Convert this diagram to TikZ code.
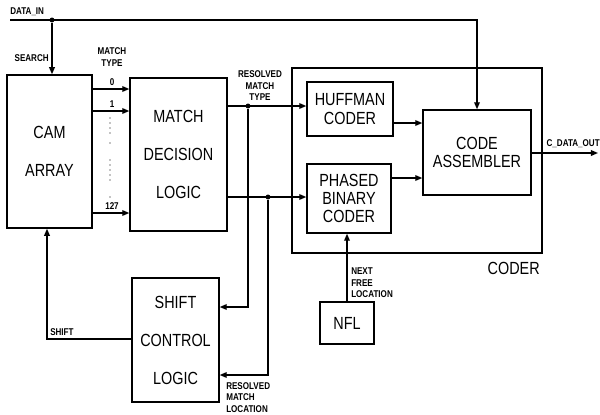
\documentclass[tikz,border=0pt]{standalone}
\usepackage{fontspec}
\setmainfont{Liberation Sans}[FakeStretch=0.82]
\usetikzlibrary{arrows.meta,positioning}

\begin{document}
\begin{tikzpicture}[x=0.025cm,y=-0.025cm,
  blk/.style={draw,line width=1pt,align=center,inner sep=0pt,font=\fontsize{12.5}{13}\selectfont},
  lbl/.style={font=\fontsize{7}{8.2}\selectfont\bfseries,align=left,inner sep=0pt},
  arr/.style={line width=1pt,-{Triangle[length=5pt,width=4pt]}},
  jdot/.style={circle,fill,inner sep=0pt,minimum size=3.5pt}]
  \useasboundingbox (0,0) rectangle (600,415);

  % Blocks
  \node[blk,minimum width=2.125cm,minimum height=3.825cm] (cam) at (49.5,151.5) {CAM\\[14pt]ARRAY};
  \node[blk,minimum width=2.425cm,minimum height=3.825cm] (mdl) at (178.5,154.5) {MATCH\\[14pt]DECISION\\[14pt]LOGIC};
  \node[blk,minimum width=2.175cm,minimum height=3.1cm] (scl) at (175.5,340) {SHIFT\\[14pt]CONTROL\\[14pt]LOGIC};
  \node[blk,minimum width=6.25cm,minimum height=4.625cm] (coder) at (417,160.5) {};
  \node[font=\fontsize{12.5}{13}\selectfont,anchor=north east,inner sep=0pt] (coderlbl) at (540,262) {CODER};
  \node[blk,minimum width=2.15cm,minimum height=1.35cm] (huff) at (350,109) {HUFFMAN\\CODER};
  \node[blk,minimum width=2.1cm,minimum height=1.725cm] (pbc) at (349,198.5) {PHASED\\BINARY\\CODER};
  \node[blk,minimum width=2.7cm,minimum height=2.125cm] (ca) at (477,152.5) {CODE\\ASSEMBLER};
  \node[blk,minimum width=1.35cm,minimum height=1.05cm] (nfl) at (347,323) {NFL};

  % Data in and search
  \coordinate (din) at (10,20);
  \node[lbl,anchor=south west] (dinlbl) at (10,16) {DATA\_IN};
  \node[jdot] (j1) at (52,20) {};
  \draw[arr] (din) -| (ca.north);
  \draw[arr] (j1) -- (j1 |- cam.north);
  \node[lbl,anchor=east] (searchlbl) at (49,58) {SEARCH};

  % Match type lines
  \node[lbl,align=center] (mtlbl) at (112,57) {MATCH\\TYPE};
  \foreach \y/\t in {89/0,111/1,213/127}{
    \draw[arr] (cam.east |- 0,\y) -- (mdl.west |- 0,\y);
    \node[lbl,anchor=south] at (112,\y-3) {\t};
  }
  \foreach \y in {118,123,128,133,143,160,165,170,175,180,197}
    \fill (110,\y) circle (0.6);

  % Resolved match type / location
  \node[jdot] (j2) at (248,106) {};
  \node[jdot] (j3) at (268,197) {};
  \draw[arr] (mdl.east |- j2) -- (huff.west |- j2);
  \draw[arr] (mdl.east |- j3) -- (pbc.west |- j3);
  \draw[arr] (j2) |- (scl.east |- 0,307);
  \draw[arr] (j3) |- (scl.east |- 0,375);
  \node[lbl,align=center] (rmtlbl) at (260,86) {RESOLVED\\MATCH\\TYPE};
  \node[lbl,anchor=north west] (rmllbl) at (226,382) {RESOLVED\\MATCH\\LOCATION};

  % Shift back to CAM
  \coordinate (sh) at (47,339);
  \draw[arr] (scl.west |- sh) -- (sh) -- (sh |- cam.south);
  \node[lbl,anchor=south west] (shlbl) at (50,336) {SHIFT};

  % Inside the coder
  \draw[arr] (huff.east |- 0,123) -- (ca.west |- 0,123);
  \draw[arr] (pbc.east |- 0,178) -- (ca.west |- 0,178);
  \coordinate (dout) at (598,153);
  \draw[arr] (ca.east |- dout) -- (dout);
  \node[lbl,anchor=south east] (doutlbl) at (600,148) {C\_DATA\_OUT};

  % Next free location
  \draw[arr] (nfl.north) -- (nfl.north |- pbc.south);
  \node[lbl,anchor=west] (nfllbl) at (351,283) {NEXT\\FREE\\LOCATION};
\end{tikzpicture}
\end{document}
